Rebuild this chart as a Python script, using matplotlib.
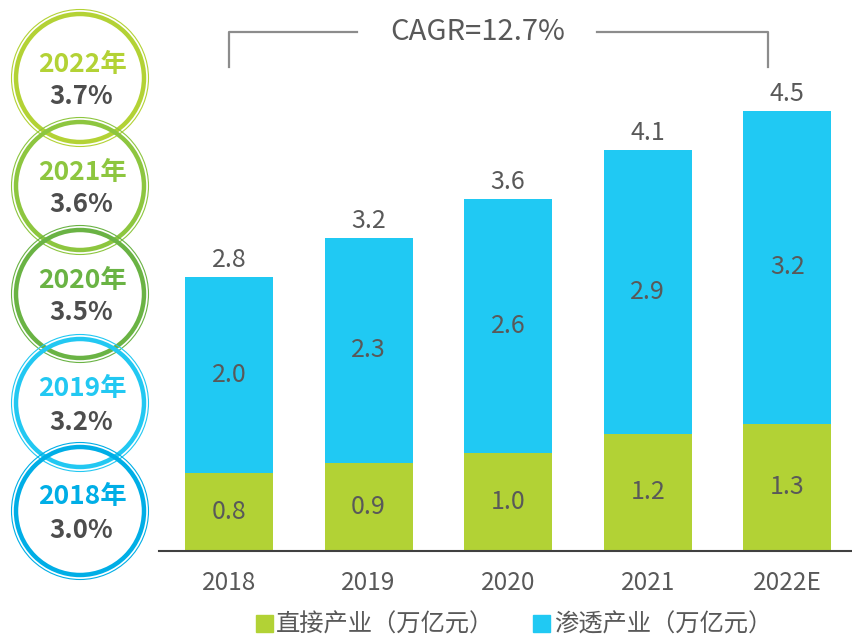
import matplotlib.pyplot as plt
from matplotlib.patches import Circle, Patch

plt.rcParams['font.family'] = ['Noto Sans CJK SC', 'DejaVu Sans']

years = ['2018', '2019', '2020', '2021', '2022E']
direct = [0.8, 0.9, 1.0, 1.2, 1.3]
spill = [2.0, 2.3, 2.6, 2.9, 3.2]
totals = [2.8, 3.2, 3.6, 4.1, 4.5]

share_years = ['2022年', '2021年', '2020年', '2019年', '2018年']
share_vals = ['3.7%', '3.6%', '3.5%', '3.2%', '3.0%']
share_colors = ['#B3D235', '#8DC63F', '#6AB344', '#22C8F2', '#00AEE6']

cagr = 'CAGR=12.7%'

green = '#B2D235'
blue = '#20C9F3'
txt = '#595959'

fig = plt.figure(figsize=(8.52, 6.38), dpi=100)
ax = fig.add_axes([159 / 852, 87 / 638, 693 / 852, 551 / 638])

x = range(len(years))
ax.bar(x, direct, width=0.63, color=green)
ax.bar(x, spill, width=0.63, bottom=direct, color=blue)

for i in x:
    ax.text(i, direct[i] / 2, f'{direct[i]:.1f}', ha='center', va='center', fontsize=18, color=txt)
    ax.text(i, direct[i] + spill[i] / 2, f'{spill[i]:.1f}', ha='center', va='center', fontsize=18, color=txt)
    ax.text(i, totals[i] + 0.17, f'{totals[i]:.1f}', ha='center', va='center', fontsize=18, color=txt)

ax.set_xlim(-0.501, 4.463)
ax.set_ylim(0, 5.63)
ax.set_xticks(list(x))
ax.set_xticklabels(years, fontsize=17.5, color=txt)
ax.tick_params(axis='x', length=0, pad=14)
ax.set_yticks([])
for s in ['left', 'right', 'top']:
    ax.spines[s].set_visible(False)
ax.spines['bottom'].set_color('#404040')
ax.spines['bottom'].set_linewidth(1.5)

# CAGR bracket
bc = '#8C8C8C'
yh, yb = 5.30, 4.95
ax.plot([0, 0, 0.917], [yb, yh, yh], color=bc, lw=1.6, clip_on=False)
ax.plot([2.636, 3.86, 3.86], [yh, yh, yb], color=bc, lw=1.6, clip_on=False)
ax.text(1.78, yh, cagr, ha='center', va='center', fontsize=21, color=txt)

# share circles on the left (pixel coordinates)
ov = fig.add_axes([0, 0, 1, 1], zorder=-1)
ov.set_xlim(0, 852)
ov.set_ylim(638, 0)
ov.axis('off')
centers = [78, 186, 294, 403, 511]
for cy, yr, v, c in zip(centers, share_years, share_vals, share_colors):
    ov.add_patch(Circle((80, cy), 64, facecolor='none', edgecolor=c, lw=3.2))
    ov.add_patch(Circle((80, cy), 68.5, facecolor='none', edgecolor=c, lw=0.8))
    ov.text(82, cy - 14, yr, ha='center', va='center', fontsize=19, fontweight='bold', color=c)
    ov.text(81, cy + 19, v, ha='center', va='center', fontsize=18.5, fontweight='bold', color='#4D4D4D')

handles = [Patch(color=green, label='直接产业（万亿元）'), Patch(color=blue, label='渗透产业（万亿元）')]
fig.legend(handles=handles, loc='center', bbox_to_anchor=(514 / 852, 1 - 625 / 638), ncol=2,
           frameon=False, fontsize=17.5, handlelength=0.7, handleheight=0.7, handletextpad=0.15,
           columnspacing=1.6, labelcolor=txt)

fig.savefig('out.png', dpi=100)
